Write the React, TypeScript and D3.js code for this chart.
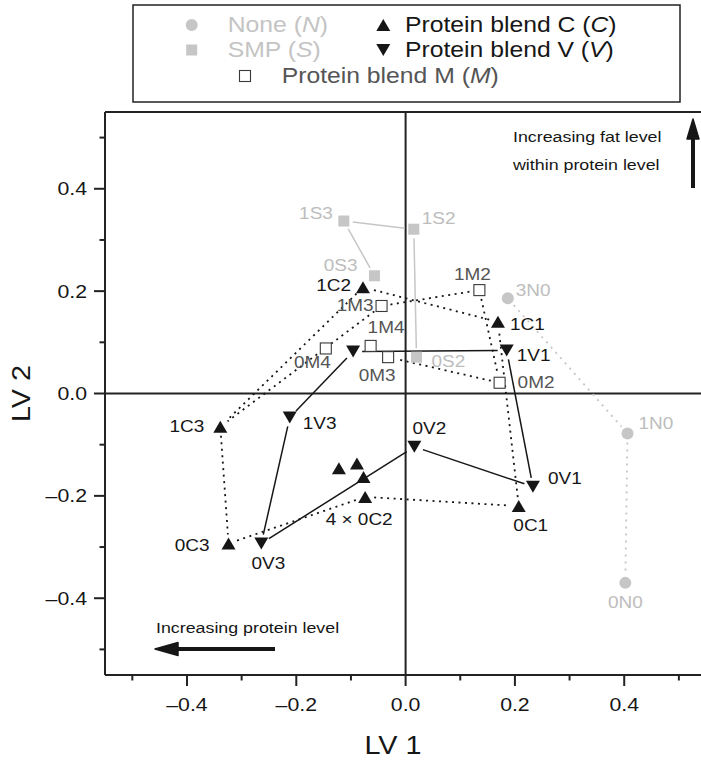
import React from 'react';
import * as d3 from 'd3';

// group N: none
const nNames = ['3N0', '1N0', '0N0'];
const nX = [0.187, 0.406, 0.402];
const nY = [0.186, -0.078, -0.37];
// group S: SMP
const sNames = ['1S3', '1S2', '0S3', '0S2'];
const sX = [-0.113, 0.015, -0.057, 0.02];
const sY = [0.337, 0.321, 0.23, 0.071];
// group C: protein blend C
const cNames = ['1C1', '1C2', '1C3', '0C3', '0C2', '0C1'];
const cX = [0.169, -0.078, -0.339, -0.324, -0.074, 0.207];
const cY = [0.14, 0.2075, -0.065, -0.293, -0.202, -0.22];
// extra replicates of 0C2
const c2RepX = [-0.122, -0.089, -0.077];
const c2RepY = [-0.146, -0.137, -0.163];
// group V: protein blend V
const vNames = ['1V1', '1V2', '1V3', '0V3', '0V2', '0V1'];
const vX = [0.185, -0.096, -0.212, -0.264, 0.016, 0.233];
const vY = [0.084, 0.082, -0.047, -0.293, -0.104, -0.182];
// group M: protein blend M
const mNames = ['1M2', '1M3', '1M4', '0M4', '0M3', '0M2'];
const mX = [0.135, -0.044, -0.064, -0.146, -0.032, 0.172];
const mY = [0.202, 0.171, 0.093, 0.088, 0.071, 0.021];

const nLinks = [['3N0', '1N0'], ['1N0', '0N0']];
const sLinks = [['1S3', '1S2'], ['1S3', '0S3'], ['1S2', '0S2']];
const cLinks = [['1C1', '1C2'], ['1C2', '1C3'], ['1C3', '0C3'], ['0C3', '0C2'], ['0C2', '0C1'], ['0C1', '1C1']];
const vLinks = [['1V1', '1V2'], ['1V2', '1V3'], ['1V3', '0V3'], ['0V3', '0V2'], ['0V2', '0V1'], ['0V1', '1V1']];
const mLinks = [['1M3', '1M2'], ['1M2', '0M2'], ['0M2', '0M3'], ['1M3', '1C3']];

const xTicks = d3.range(-5, 6).map(i => i / 10);
const yTicks = d3.range(-5, 6).map(i => i / 10);

const W = 701;
const H = 762;
const SX = 1.15; // the picture is stretched sideways
const FONT = "'Liberation Sans', Arial, Helvetica, sans-serif";
const GRAY = '#c6c6c6';
const DARK = '#161616';
const MGRAY = '#555';

// label offsets [dx, dy, anchor]
const labelPos: Record<string, [number, number, string]> = {
  '3N0': [8, -8, 'start'], '1N0': [11, -10, 'start'], '0N0': [0, 20, 'middle'],
  '1S3': [-11, -8, 'end'], '1S2': [8, -11, 'start'], '0S3': [-17, -10, 'end'], '0S2': [15, 4, 'start'],
  '1C1': [12, 3, 'start'], '1C2': [-12, -2, 'end'], '1C3': [-16, 0, 'end'], '0C3': [-19, 2, 'end'],
  '0C1': [12, 19, 'middle'],
  '1V1': [10, 5, 'start'], '1V3': [13, 6, 'start'], '0V3': [7, 20, 'middle'], '0V2': [15, -18, 'middle'],
  '0V1': [15, -8, 'start'],
  '1M2': [-7, -16, 'middle'], '1M3': [-8, -1, 'end'], '1M4': [-3, -18, 'start'], '0M4': [5, 14, 'end'],
  '0M3': [-11, 18, 'middle'], '0M2': [18, 0, 'start'],
};

const T = ({ x, y, size, fill = DARK, anchor = 'start', rotate = 0, children }: any) => (
  <text
    transform={`translate(${x},${y}) rotate(${rotate}) scale(${SX},1)`}
    fontSize={size}
    fontFamily={FONT}
    fill={fill}
    textAnchor={anchor}
    dominantBaseline="central"
  >
    {children}
  </text>
);

const Marker = ({ kind, x, y }: any) => {
  if (kind === 'N') return <circle cx={x} cy={y} r={6} fill={GRAY} />;
  if (kind === 'S') return <rect x={x - 5.5} y={y - 5.5} width={11} height={11} fill={GRAY} />;
  if (kind === 'M')
    return <rect x={x - 5.5} y={y - 5.5} width={11} height={11} fill="#fff" stroke="#3a3a3a" strokeWidth={1.1} />;
  const w = 14;
  const h = 12;
  const d =
    kind === 'C'
      ? `M${x},${y - h / 2}L${x + w / 2},${y + h / 2}L${x - w / 2},${y + h / 2}Z`
      : `M${x},${y + h / 2}L${x + w / 2},${y - h / 2}L${x - w / 2},${y - h / 2}Z`;
  return <path d={d} fill={DARK} />;
};

export default function App() {
  const x = d3.scaleLinear().domain([-0.55, 0.55]).range([105, 706.2]);
  const y = d3.scaleLinear().domain([-0.55, 0.55]).range([675, 112]);
  const fmt = (v: number) => d3.format('.1f')(v).replace('−', '\u2013');

  const groups = [
    { kind: 'N', names: nNames, xs: nX, ys: nY, links: nLinks, stroke: GRAY, dash: '2,5', lab: '#bdbdbd' },
    { kind: 'S', names: sNames, xs: sX, ys: sY, links: sLinks, stroke: GRAY, dash: null, lab: '#bdbdbd' },
    { kind: 'M', names: mNames, xs: mX, ys: mY, links: mLinks, stroke: DARK, dash: '2,4.5', lab: MGRAY },
    { kind: 'C', names: cNames, xs: cX, ys: cY, links: cLinks, stroke: DARK, dash: '2,4.5', lab: DARK },
    { kind: 'V', names: vNames, xs: vX, ys: vY, links: vLinks, stroke: DARK, dash: null, lab: DARK },
  ];

  // position of any named point across all groups
  const pos = (n: string) => {
    for (const g of groups) {
      const i = g.names.indexOf(n);
      if (i >= 0) return [x(g.xs[i]), y(g.ys[i])];
    }
    return [0, 0];
  };

  const segs: any[] = [];
  groups.forEach(g => {
    g.links.forEach(([a, b], k) => {
      const [x1, y1] = pos(a);
      const [x2, y2] = pos(b);
      const len = Math.hypot(x2 - x1, y2 - y1);
      const gap = 9;
      const ux = (x2 - x1) / len;
      const uy = (y2 - y1) / len;
      segs.push(
        <line
          key={g.kind + k}
          x1={x1 + ux * gap}
          y1={y1 + uy * gap}
          x2={x2 - ux * gap}
          y2={y2 - uy * gap}
          stroke={g.stroke}
          strokeWidth={g.dash ? 1.8 : 1.5}
          strokeDasharray={g.dash || undefined}
        />
      );
    });
  });

  const left = 105;
  const top = 112;
  const bottom = 675;

  return (
    <div style={{ position: 'absolute', left: 0, top: 0 }}>
      <svg width={W} height={H} style={{ display: 'block', background: '#fff' }}>
        {/* legend */}
        <rect x={133} y={5} width={547} height={97} fill="#fff" stroke="#222" strokeWidth={1.5} />
        <Marker kind="N" x={191.7} y={25} />
        <T x={227.7} y={25} size={21.5} fill="#c4c4c4">None (<tspan fontStyle="italic">N</tspan>)</T>
        <Marker kind="S" x={191.7} y={50} />
        <T x={227.7} y={50} size={21.5} fill="#c4c4c4">SMP (<tspan fontStyle="italic">S</tspan>)</T>
        <Marker kind="C" x={383.3} y={25} />
        <T x={405} y={25} size={21.5}>Protein blend C (<tspan fontStyle="italic">C</tspan>)</T>
        <Marker kind="V" x={383.3} y={50} />
        <T x={405} y={50} size={21.5}>Protein blend V (<tspan fontStyle="italic">V</tspan>)</T>
        <Marker kind="M" x={245} y={76} />
        <T x={281.7} y={76} size={21.5} fill={MGRAY}>Protein blend M (<tspan fontStyle="italic">M</tspan>)</T>

        {/* frame and zero lines */}
        <line x1={left} y1={top} x2={W} y2={top} stroke="#222" strokeWidth={2} />
        <line x1={left} y1={top} x2={left} y2={bottom} stroke="#222" strokeWidth={2} />
        <line x1={left} y1={bottom} x2={W} y2={bottom} stroke="#222" strokeWidth={2} />
        <line x1={x(0)} y1={top} x2={x(0)} y2={bottom} stroke="#222" strokeWidth={2} />
        <line x1={left} y1={y(0)} x2={W} y2={y(0)} stroke="#222" strokeWidth={2} />

        {xTicks.map((t, i) => {
          const major = Math.round(t * 10) % 2 === 0;
          return (
            <g key={'x' + i}>
              <line x1={x(t)} x2={x(t)} y1={bottom} y2={bottom + (major ? 11 : 5.5)} stroke="#222" strokeWidth={2} />
              {major && <T x={x(t)} y={705} size={18.5} anchor="middle">{fmt(t)}</T>}
            </g>
          );
        })}
        {yTicks.map((t, i) => {
          const major = Math.round(t * 10) % 2 === 0;
          return (
            <g key={'y' + i}>
              <line x1={left} x2={left - (major ? 11 : 5.5)} y1={y(t)} y2={y(t)} stroke="#222" strokeWidth={2} />
              {major && <T x={87} y={y(t)} size={18.5} anchor="end">{fmt(t)}</T>}
            </g>
          );
        })}
        <T x={393} y={746} size={25} anchor="middle">LV 1</T>
        <T x={22} y={393.5} size={25} anchor="middle" rotate={-90}>LV 2</T>

        {/* annotations */}
        <T x={513} y={137} size={15.5}>Increasing fat level</T>
        <T x={513} y={165} size={15.5}>within protein level</T>
        <line x1={693} y1={188} x2={693} y2={135} stroke={DARK} strokeWidth={4} />
        <path d="M693,119L699,139L687,139Z" fill={DARK} stroke={DARK} strokeWidth={1.5} strokeLinejoin="round" />
        <T x={156} y={628} size={15.5}>Increasing protein level</T>
        <line x1={275} y1={649} x2={172} y2={649} stroke={DARK} strokeWidth={4} />
        <path d="M155,649L178,642.5L178,655.5Z" fill={DARK} stroke={DARK} strokeWidth={1.5} strokeLinejoin="round" />

        {segs}

        {groups.map(g =>
          g.names.map((n, i) => (
            <Marker key={n} kind={g.kind} x={x(g.xs[i])} y={y(g.ys[i])} />
          ))
        )}
        {c2RepX.map((v, i) => (
          <Marker key={'rep' + i} kind="C" x={x(v)} y={y(c2RepY[i])} />
        ))}

        {groups.map(g =>
          g.names.map((n, i) => {
            const p = labelPos[n];
            if (!p) return null;
            return (
              <T key={'l' + n} x={x(g.xs[i]) + p[0]} y={y(g.ys[i]) + p[1]} size={16.5} fill={g.lab} anchor={p[2]}>
                {n}
              </T>
            );
          })
        )}
        <T x={x(cX[4]) - 6} y={y(cY[4]) + 23} size={16.5} anchor="middle">4 {'\u00d7'} 0C2</T>
      </svg>
    </div>
  );
}
